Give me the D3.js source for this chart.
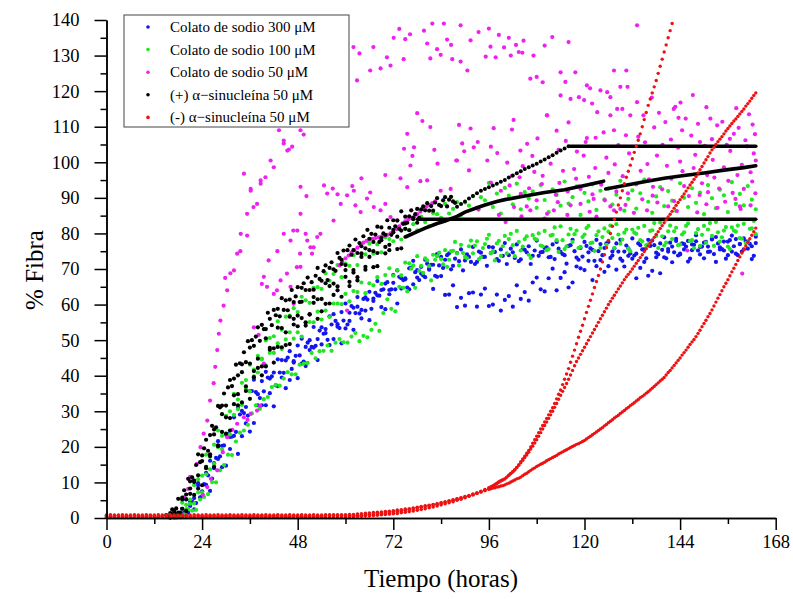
<!DOCTYPE html>
<html><head><meta charset="utf-8">
<script src="https://cdn.jsdelivr.net/npm/d3@7"></script>
<style>body{margin:0;background:#fff}svg{display:block}</style>
</head><body>
<svg id="chart" width="793" height="599"></svg>
<script>
// ---------- axis ticks & labels ----------
const xTicks=[0,24,48,72,96,120,144,168];
const xMinor=[12,36,60,84,108,132,156];
const yTicks=[0,10,20,30,40,50,60,70,80,90,100,110,120,130,140];
const yMinor=[5,15,25,35,45,55,65,75,85,95,105,115,125,135];
const xTitle="Tiempo (horas)";
const yTitle="% Fibra";
const legendLabels=["Colato de sodio 300 μM","Colato de sodio 100 μM","Colato de sodio 50 μM","(+) α−sinucleína 50 μM","(-) α−sinucleína 50 μM"];
const seriesColors=["#1414ee","#22e622","#ee22ee","#000000","#ee1111"];

// ---------- Colato de sodio 300 uM (blue), replicates sampled hourly ----------
const blue1Start=17, blue1=[0.8,0.5,2.6,5.3,3.4,5.6,9.8,7.5,12.7,16.1,15.4,21.6,20.3,23.4,22.8,28.3,31.0,30.1,31.2,35.7,38.9,34.8,38.5,41.1,39.2,40.9,44.6,44.4,44.3,46.9,44.1,48.5,50.4,48.1,50.0,53.7,50.3,53.6,53.1,56.7,57.3,54.5,57.9,60.3,57.7,59.1,62.1,58.5,62.0,63.6,61.7,66.6,64.1,65.9,64.1,68.3,69.6,67.4,67.1,70.2,72.3,67.6,70.6,72.6,70.1,71.2,74.2,73.4,72.6,74.4,70.9,74.5,75.5,72.4,73.4,76.2,72.0,74.6,73.4,76.2,76.1,72.8,75.5,77.3,73.9,74.7,76.9,72.7,75.4,76.4,73.7,78.0,74.7,75.9,73.3,76.9,77.6,74.8,73.9,76.5,78.2,73.2,75.9,77.6,74.7,75.4,78.2,77.0,75.9,77.6,73.8,77.2,78.2,74.9,75.8,78.6,74.3,76.7,75.5,78.2,78.0,74.6,77.2,78.9,75.6,76.3,78.5,74.3,77.0,77.9,75.3,79.5,76.2,77.4,74.8,78.3,79.0,76.1,75.2,77.7,79.4,74.3,77.0,78.6,75.7,76.4,79.1];
const blue2Start=17, blue2=[0.2,1.1,0.4,2.3,4.6,2.4,9.2,6.1,9.3,7.6,14.0,16.6,14.3,14.7,19.4,23.1,18.0,23.0,26.6,24.3,26.7,31.7,31.7,31.7,35.1,31.4,37.1,39.5,36.5,38.8,43.7,39.3,43.4,42.7,47.2,47.9,44.4,48.8,52.0,48.6,50.3,53.8,49.1,53.3,55.4,52.9,59.4,56.1,58.3,55.6,61.0,62.6,59.3,58.7,62.9,66.1,60.3,64.5,67.4,64.3,65.7,69.7,68.7,67.7,69.8,64.4,67.8,68.0,62.7,62.8,65.4,59.3,61.9,59.7,63.2,63.4,59.4,62.8,64.5,59.6,60.0,62.8,58.3,61.3,62.4,59.4,65.4,61.6,63.5,61.1,66.2,67.6,64.3,63.7,67.4,70.1,64.0,67.5,69.1,64.8,66.2,70.7,70.2,69.7,72.3,66.9,70.8,72.5,69.2,70.8,74.9,69.8,72.9,70.7,73.7,72.9,67.4,70.3,72.0,68.1,69.5,73.3,68.8,73.3,74.9,71.9,77.9,74.1,75.5,72.1,76.9,77.8,74.1,73.0,76.3,78.5,72.0,75.5,77.7,73.9,74.9,78.4,77.0,75.5,77.7,72.8,77.3];
const blue3Start=17.5, blue3=[0.5,0.5,1.6,1.5,4.6,4.2,5.8,9.5,12.0,11.1,16.9,17.3,20.4,23.6,22.9,24.2,29.1,29.5,28.8,35.7,35.4,33.7,35.6,39.5,39.8,37.3,40.9,40.8,45.1,41.9,45.6,45.7,44.0,49.3,48.1,48.4,52.7,51.8,50.1,54.4,55.4,53.4,55.5,54.4,59.6,57.6,57.5,61.6,61.4,58.8,63.3,62.5,64.3,66.3,64.3,64.3,67.8,66.9,64.8,70.4,69.1,66.9,68.2,71.5,71.2,68.1,71.0,70.3,73.9,69.9,72.9,72.2,69.6,74.1,72.0,71.4,74.9,73.4,70.9,74.5,74.8,72.3,73.7,71.4,75.7,73.1,72.2,75.6,74.7,71.4,75.2,73.7,74.8,76.1,73.4,72.8,75.7,74.2,71.5,76.7,75.0,72.6,73.5,76.5,75.8,72.3,75.0,73.9,77.2,73.1,75.8,74.9,72.3,76.6,74.4,73.8,77.2,75.5,73.0,76.5,76.7,74.1,75.4,73.0,77.4,74.7,73.8,77.2,76.3,72.9,76.8,75.2,76.3,77.6,74.9,74.2,77.2,75.6,72.9,78.1,76.4,73.9,74.9,77.8,77.1,73.7];

// ---------- Colato de sodio 100 uM (green) ----------
const green1Start=17, green1=[0.5,0.6,4.3,3.7,4.0,9.2,10.9,11.9,17.8,17.2,20.6,24.6,23.1,28.7,30.0,34.9,33.3,38.0,38.8,43.1,41.7,45.6,44.6,49.9,50.6,51.1,55.3,52.9,56.6,56.9,59.0,57.9,62.2,61.2,60.5,64.7,64.9,64.4,68.8,66.7,68.6,71.1,67.7,71.5,70.9,73.9,71.1,74.5,74.1,77.1,74.3,76.9,74.7,78.9,78.4,77.8,81.3,78.3,81.3,81.0,82.6,80.9,84.7,83.2,82.0,85.7,85.4,84.4,88.3,85.6,86.9,88.8,85.2,88.7,87.8,90.5,87.2,90.2,89.3,94.2,87.4,91.2,85.6,92.8,90.6,88.2,94.0,86.8,91.6,89.8,91.8,87.2,93.6,89.4,86.0,92.4,90.8,87.8,94.6,88.4,90.2,93.2,85.2,91.4,89.0,93.8,86.6,92.0,89.6,92.6,88.1,90.9,94.8,86.4,89.7,92.1,87.0,91.3,95.1,88.9,85.8,90.4,93.0,87.7,91.9,89.2,86.3,94.1,90.0,87.4,92.7,88.6,91.5,85.4,93.6,89.9,87.1,92.3,90.7,86.0,94.4,88.3,91.1,87.9,93.3,89.5,86.8];
const green2Start=17, green2=[0.1,0.9,0.9,2.4,5.2,4.1,7.2,7.2,12.3,13.7,15.2,19.9,19.3,23.5,23.5,29.0,30.6,31.8,36.3,35.6,39.8,40.9,44.8,42.9,46.4,46.4,49.1,47.5,50.2,52.2,50.4,52.2,51.0,54.8,55.1,55.0,58.0,55.8,58.3,56.5,60.3,60.3,60.1,63.0,60.9,63.8,63.5,66.2,63.2,66.0,65.4,67.7,65.8,68.3,70.2,68.1,69.7,68.2,71.8,71.6,71.0,73.6,70.9,73.0,70.8,74.0,73.6,72.8,75.3,72.6,75.1,74.4,76.8,73.4,76.4,74.4,77.8,73.3,77.0,79.6,75.0,77.2,73.7,79.3,78.4,76.7,80.7,75.2,78.4,74.0,79.5,78.3,76.6,80.7,75.6,79.6,78.1,82.0,75.6,79.7,77.6,80.8,76.2,79.7,82.1,77.4,79.5,75.9,81.4,80.5,78.7,82.6,77.1,80.2,75.7,81.1,79.9,78.1,82.1,76.9,80.9,79.3,83.1,76.6,80.6,78.4,81.6,76.9,80.3,82.8,78.1,80.1,76.5,82.1,81.1,79.3,83.2,77.7,80.8,76.3,81.7,80.5,78.7,82.7,77.5,81.4,79.8];
const green3Start=17.5, green3=[0.1,0.2,1.0,2.5,2.1,2.3,5.2,5.9,6.7,10.1,10.0,13.4,14.9,17.8,17.7,21.5,24.0,24.6,26.2,29.4,31.7,30.7,33.4,34.0,36.8,37.4,37.2,39.2,41.0,40.4,40.4,43.1,43.4,43.6,46.4,44.9,46.9,47.0,48.5,47.0,49.3,50.3,49.4,49.3,51.0,52.0,49.7,51.2,50.8,52.9,54.6,52.6,57.6,61.5,58.8,58.1,65.0,64.7,63.7,70.1,64.7,69.5,68.9,72.4,66.8,72.6,74.6,71.3,70.6,75.0,77.6,71.0,74.5,73.0,78.0,76.6,72.8,75.9,78.5,74.4,72.4,77.9,76.4,74.4,79.9,73.6,77.6,76.3,79.2,73.1,78.5,80.0,76.4,75.3,79.4,81.7,74.8,78.1,76.4,81.3,79.8,75.9,79.0,81.5,77.3,75.1,80.6,79.0,76.8,82.2,75.9,79.7,78.3,81.1,75.0,80.2,81.6,77.8,76.7,80.7,82.9,75.9,79.2,77.4,82.2,80.6,76.7,79.7,82.1,77.9,75.8,81.2,79.6,77.4,82.9,76.5,80.3,78.9,81.8,75.6,80.8,82.2,78.5,77.3,81.3,83.5];

// ---------- Colato de sodio 50 uM (magenta), individual readings [hours, %] ----------
const magentaPts=[
[19.4,5.8],[20.5,8.2],[21,11.6],[21.9,10.5],[22.7,15.2],[23.6,19.9],[24.4,23.7],[25.3,27.4],[26,33],[26.9,37.9],[27.3,42.5],[27.8,47.2],[28.2,51.8],[28.6,55.5],[29.4,59.7],[30.3,64],[29.8,67.5],[31.1,68.8],[32,69.6],[32.8,74.3],[33.6,75],[33.7,79.9],[35.3,85.5],[34.5,96.8],[36.2,92],[36.9,87.4],[37.8,88.3],[38.7,94.9],[39.9,95.8],[41.2,100.5],[42,98.6],[43.3,109],[44.5,106.1],[45.4,103.3],[46.6,104.4],[48.7,109],[49.5,107.8],
[24.2,6.5],[25.3,8.7],[26.2,11],[27.8,13.4],[29.2,18.5],[30.3,22.7],[31.6,24.8],[32.8,26.5],[34.5,28.3],[35.4,27.6],[36.2,29.3],[37.8,30.2],[38.6,31.5],[39.5,43.4],[37,53.6],[38.2,51.5],[47,60.2],[60.4,58.3],
[39,65.8],[40.7,72.4],[42.8,64],[42.9,75],[44.5,79.9],[45.3,68.7],[46.2,65],[46.9,80.8],[47.8,70.5],[48.6,74.3],[48.7,85.5],[50,79.9],[50.4,78],[51.6,74.3],[52,76.1],[53.7,79.9],[57,83.6],[39.5,67.8],[40.3,65],[42,63],[43.7,66.8],[46.2,78],[47.9,80.8],[48.7,70.6],[51.2,76.1],[52.9,79],[48.7,93.1],[50.2,90.5],[54.6,93.5],[55.4,91.2],[56.8,92.6],[58,91],[58.8,88.3],[60.4,90.7],[61.7,93.3],[62.5,87.9],[63.8,86],[65.4,89.8],[67.1,87.4],[68.8,86.5],[70,88.3],[71.3,84.6],[73,83.7],[62.1,92],[64,95.5],[66.2,91.5],[35.3,79.4],[36.2,92.5],[38.7,94],[44.5,105.3],[45.8,103.6],
[58.5,71],[59.2,72],[60,73],[60.8,73.8],[61.5,74.6],[62.2,75.3],[63,76],[63.8,76.8],[64.5,77.4],[65.3,77.9],[66,78.2],[66.8,78.5],[67.5,78.7],[68.3,78.9],[69,79.1],[69.8,79.3],[70.5,79.6],[71.3,80],[72,80.4],[72.8,81.3],[73.5,82],[74.3,82.8],[75,83.4],[75.8,84],[76.5,84.4],[77.3,84.8],[78,85.4],[78.8,86.1],[79.5,86.8],[80.3,87.5],[81,88],[81.8,88.5],[82.5,89],
[62,132.4],[63.5,130.6],[67,132.4],[70.4,129.5],[66.2,125.8],[68.8,126.4],[62.9,123],[72.1,135],[73.5,137.5],[76.2,136],[79.7,137],[81.8,139],[84.7,139],[85.5,134.5],[88.9,138.5],[93.4,136.6],[96,137.6],[98.5,135.8],[101,135],[102.8,133],[104.7,134.2],[111.9,135.2],[116,133.8],[133.2,138.5],[75,134.6],[80.5,133.4],[83,131.8],[86.5,133],[91.4,134.3],[96.4,132.5],[99.8,132.3],[103.5,131],[107.2,130],[110,132.8],[71.3,127.2],[74.6,129],[81.3,129.2],[83.9,130.2],[86.8,129],[88.9,128.3],[90.6,125.8],[95.2,129.7],[97.7,129.5],[101.5,130],[104.4,130.8],[106.4,123.5],[108,124],[109.5,122.5],[114,125.3],[115.2,122.6],[117.7,125.3],[120.6,121.6],[121.4,120.8],[121.9,116.5],[124,120.2],[125.7,119.7],[127.4,125.8],[129,121.2],[130.5,125.8],[130.8,121.2],[126.5,118.3],[128.2,115],[129.5,115],[131.5,113.2],[133.2,116.9],[134.8,113.2],[114,118.8],[116.5,117.8],[118.6,118.3],[119.9,117.5],[123.2,114.1],[126.5,113.2],[110.6,113.2],[142.4,115],[143.6,112.5],[140.3,111.3],[142.8,115.6],[145.4,112.3],[144.5,109],[151.6,112.3],[153.3,110.4],[152,106.5],[157.5,108],[156.5,106.6],[149,105.7],[127.4,109],[130.4,107.6],[133.5,107.2],[120.3,105.7],[122.8,106.9],[116,111.2],[113,108.9],
[146.8,107.5],[148.5,110.8],[150.2,104.6],[154.6,111.4],[158.7,109.7],[160.4,106.2],[162.2,110.6],[141.7,106.4],[137.5,109.8],[139.6,104.9],[135.2,105.6],[155.7,104.9],[161.3,113.5],[144.1,116.8],[147.2,118.9],[138.7,113.9],[136.9,118.2],[150.6,115.5],[158.1,115.2],[162.8,107.9],
[78,113.8],[79.3,111.6],[88.5,110.5],[75.5,108],[81.3,109.9],[91.4,109.5],[97.2,109.6],[102.2,111.9],[101.8,109.2],[110.6,113.2],[74.7,103.8],[76.8,101.8],[82.3,103.5],[89.3,105.3],[89.8,103.1],[93.2,105.7],[96.5,104.4],[98.1,102.6],[103.9,103.3],[105.6,105.2],[76.3,99.1],[83.1,99.6],[87.8,100.5],[91,97.7],[95.6,100.5],[100.6,99.9],[101.8,96.2],[70,96.4],[73.8,95.5],[78.8,94.7],[83.9,92],[86.4,92.5],[96.5,94.3],[99,92],[107.4,97.3],[109.5,96.2],[113.7,94.2],[117.4,98.1],[118.6,93.2],[104,91.1],[75.5,93],[77.2,104.2],[80.5,94.9],[88,100.5],[92.2,104.2],
[108,89.3],[112.3,86.5],[115.8,91.8],[119,88.3],[122.3,89.7],[127.4,86.5],[123,84.7],[110,84.2],[105.5,87.6],[98.5,85.2],[93.4,86.7],
[138.2,101.9],[140.7,99],[144,100.2],[147.4,98.4],[150.8,96.4],[152.2,100.7],[155,98.6],[158.4,96.4],[160,92.5],[161.7,97.2],[163,100.5],[161.7,87.9],[159,87.6],[155.3,88.9],[151,91.6],[146.2,90.5],[142.5,89.1],[138.3,88.7],[134.5,89.6],[130.3,88],[126.5,87.6],[122,91],[119,92.5],[116.5,87.9],[115.7,85.2],[136.2,95.2],[133,93.8],[129.6,96.1],[126,97],[122.7,98.4],[119.8,101.9],[125.5,101.3],[131.2,102.5],[135.8,99.5],[143.5,104.1],[147.8,102.1],[156.6,103.2],[160.8,104.5],[162.5,102.5],[149.5,94.1],[153.8,92.6],[157.2,91.4],[145,93.3],[139.5,92.4],[128,91.8],[159.6,68.7],
[104.5,98.9],[106.9,101.8],[111.5,99.6],[113.5,103.5],[108.2,106.7],[115.3,106],[118.1,103],[120.6,106.8],[124.8,108.4],[128.5,104.8],
[102.3,87.4],[106.4,86.5],[110.6,85.5],[121.3,86.1],[129,86.9],[132.4,85.8],[135.7,86.5],[141,87.6],[148.3,85.9],[153.4,87.2],[159.2,86.9],[100.2,83.2],[145.8,75.2],
[101.2,93.5],[103.7,95.8],[106.1,92.7],[109.3,93.9],[112.8,90.9],[114.6,97.6],[117.9,95.4],[121.1,95.9],[124.2,93.7],[127.6,99.4],[130.9,91.3],[134.1,97.6],[137.2,93.1],[141.8,95.4],[144.6,97.5],[148.9,90.8],[152.6,95.7],[156.1,94.8],[159.5,99.3],[162.1,94.6],[104.2,84.8],[113.3,88.8],[125.1,89.3],[137.1,90.6],[143.2,86.3],[150.6,88.2],[157.9,89.7],[162.9,91.3]
];

// ---------- (+) alfa-sinucleina 50 uM (black) ----------
const black1Start=15, black1Step=0.5, black1=[0.8,0.4,1.4,2.4,1.4,2.7,5.4,1.5,5.7,7.8,6.6,11.0,8.3,11.4,10.1,14.9,17.9,15.7,16.0,19.6,22.0,18.9,23.3,25.9,24.9,25.5,31.5,31.1,31.6,35.0,31.6,36.7,38.8,37.1,39.2,43.1,40.1,43.5,43.2,46.6,43.8,49.7,47.9,50.0,48.4,51.0,53.6,49.8,54.3,53.1,53.1,57.7,56.0,54.2,58.5,57.0,58.8,56.7,61.8,58.5,61.2,58.4,61.4,64.1,60.7,62.3,64.9,60.7,64.7,66.0,64.1,67.6,64.1,66.3,64.2,68.1,70.3,67.2,66.7,69.4,71.0,66.9,70.3,71.9,69.9,69.5,74.5,73.1,72.6,75.2,71.1,75.3,76.6,74.0,75.3,78.3,74.5,77.3,76.4,79.2,75.8,81.0,78.5,79.9,77.6,79.7,81.9,77.6,81.7,80.0,79.6,83.7,81.6,79.6,83.7,82.0,83.6,81.3,86.2,82.7,84.7,83.0,84.8,86.5,84.4,85.4,86.9,84.4,86.8,87.6,86.5,88.5,86.4,87.7,86.4,88.7,89.9,88.0,87.7,89.3,90.2,87.6,89.5,90.3,89.0,88.6];
const black2Start=16, black2Step=1, black2=[0.2,2.0,1.5,5.2,5.2,10.3,6.5,12.0,17.6,14.4,17.9,23.5,20.2,29.2,28.3,28.1,34.5,34.8,41.0,35.7,43.4,41.3,44.8,42.6,50.5,47.8,47.7,53.5,53.4,48.6,56.6,54.4,56.9,60.8,55.0,57.3,62.1,61.5,58.1,66.0,65.2,62.7,65.1,71.4,69.7,65.2,69.7,67.7,74.3,70.6,75.3,75.0,70.8,78.7,76.2,75.3,81.0,79.1,75.8,81.3];
const black3Start=16, black3Step=1, black3=[0.1,1.1,0.6,2.6,2.0,6.8,10.5,8.3,9.2,14.0,17.4,14.4,20.4,24.2,23.7,24.6,32.0,31.7,32.5,37.0,33.5,39.6,42.2,40.1,42.6,47.3,43.7,48.1,48.0,52.2,48.9,56.0,53.9,56.2,54.1,57.2,60.5,56.0,61.6,60.2,60.3,65.9,64.0,62.2,67.8,66.4,69.0,66.8,73.4,69.8,73.4,70.5,74.5,78.1,74.4,76.8,80.3,75.6,80.8,82.8,80.9,84.0,83.0];
const blackRiseStart=88, blackRise=[87.5,88.3,89.0,89.8,90.5,91.3,92.0,92.5,93.0,93.5,94.0,94.5,95.0,95.7,96.3,96.9,97.5,98.1,98.6,99.1,99.6,100.2,100.8,101.4,102.0,102.7,103.3,103.9,104.5];
const blackTopPlateau=[[116.5,104.5],[163,104.5]];
const blackLowPlateau=[[78,84],[163,84]];
const blackMidA=[[75,79],[78,80.5],[80,81.5],[83,82.8],[85,83.5],[88,84.8],[90,86],[93,87.2],[95,88],[98,89],[100,89.5],[105,90.5],[110,91.5],[115,92.3],[120,93.5],[124.8,94.7]];
const blackMidB=[[125.3,92.5],[130,93.5],[135,94.5],[140,95.5],[145,96.3],[150,97],[155,97.8],[160,98.5],[163,99]];

// ---------- (-) alfa-sinucleina 50 uM (red), three replicates ----------
const redA1=[0.2,0.2,0.3,0.2,0.2,0.3,0.2,0.2,0.3,0.2,0.2,0.3,0.2,0.2,0.3,0.2,0.2,0.3,0.2,0.2,0.3,0.2,0.2,0.3,0.2,0.2,0.3,0.2,0.2,0.3,0.2,0.2,0.3,0.2,0.2,0.3,0.2,0.2,0.3,0.2,0.2,0.3,0.2,0.2,0.3,0.2,0.2,0.3,0.2,0.2,0.3,0.2,0.2,0.3,0.2,0.2,0.3,0.3,0.3,0.3,0.3,
0.4,0.4,0.5,0.5,0.6,0.6,0.7,0.8,0.9,1.0,1.1,1.2,1.3,1.5,1.6,1.8,2.0,2.2,2.4,2.6,2.9,3.1,3.4,3.7,4.0,4.3,4.6,5.0,5.3,5.7,6.1,6.5,7.0,7.5,8.0,8.5];
const redA2=[8.8,9.1,9.4,9.8,10.1,10.4,10.7,11.0,11.5,12.0,12.5,13.0,13.5,14.2,15.0,15.8,16.6,17.4,18.2,19.0,20.0,21.0,22.0,23.0,24.0,25.0,26.0,27.0,28.0,29.0,30.0,31.0,32.2,33.5,34.8,36.0,37.5,39.0,40.5,42.0,43.8,45.5,47.2,49.0,50.8,52.5,54.2,56.0,57.8,59.5,61.2,63.0,64.8,66.5,68.2,70.0,72.0,74.0,76.0,78.0,80.0,82.0,84.0,86.0,88.0,90.0,92.0,94.0,95.8,97.5,99.2,101.0,102.8,104.5,106.2,108.0,110.0,112.0,114.0,116.0,117.8,119.5,121.2,123.0,125.0,127.0,129.0,131.0,133.0,135.0,137.0,139.0];
const redB1=[0.5,0.5,0.5,0.6,0.5,0.5,0.5,0.6,0.5,0.5,0.5,0.6,0.5,0.5,0.5,0.6,0.5,0.5,0.5,0.6,0.5,0.5,0.5,0.6,0.5,0.5,0.5,0.6,0.5,0.5,0.5,0.6,0.5,0.5,0.5,0.6,0.5,0.5,0.5,0.6,0.5,0.5,0.5,0.6,0.5,0.5,0.5,0.6,0.5,0.5,0.5,0.6,0.5,0.5,0.5,0.6,0.6,0.6,0.6,0.6,0.6,
0.7,0.7,0.8,0.8,0.9,1.0,1.1,1.2,1.3,1.4,1.5,1.7,1.8,2.0,2.2,2.4,2.6,2.8,3.0,3.2,3.4,3.7,3.9,4.2,4.5,4.8,5.1,5.4,5.7,6.0,6.3,6.7,7.0,7.4,7.8,8.2];
const redB2=[8.5,8.9,9.3,9.7,10.1,10.5,10.8,11.0,11.5,12.0,12.5,13.0,13.6,14.2,14.8,15.5,16.2,17.0,17.7,18.5,19.4,20.2,21.1,22.0,23.0,24.0,25.0,26.0,27.0,28.0,29.0,30.0,31.1,32.2,33.4,34.5,35.6,36.7,37.8,39.0,40.2,41.5,42.8,44.0,45.0,46.0,47.0,48.0,49.0,50.0,51.0,52.0,53.0,54.0,55.0,56.0,57.0,58.0,59.0,60.0,60.9,61.8,62.6,63.5,64.4,65.2,66.1,67.0,67.8,68.5,69.2,70.0,70.8,71.6,72.4,73.2,74.0,74.9,75.7,76.5,77.3,78.1,78.9,79.7,80.5,81.4,82.2,83.0,83.8,84.6,85.4,86.2,87.1,87.9,88.7,89.5,90.3,91.1,91.9,92.8,93.6,94.4,95.2,96.0,97.0,97.9,98.8,99.8,100.7,101.6,102.6,103.5,104.2,105.0,105.8,106.5,107.2,108.0,108.8,109.5,110.2,110.9,111.6,112.2,112.9,113.6,114.3,115.0,115.8,116.5,117.2,118.0,118.8,119.5];
const redC1=[0.8,0.9,0.8,0.8,0.9,0.8,0.8,0.9,0.8,0.8,0.9,0.8,0.8,0.9,0.8,0.8,0.9,0.8,0.8,0.9,0.8,0.8,0.9,0.8,0.8,0.9,0.8,0.8,0.9,0.8,0.8,0.9,0.8,0.8,0.9,0.8,0.8,0.9,0.8,0.8,0.9,0.8,0.8,0.9,0.8,0.8,0.9,0.8,0.8,0.9,0.8,0.8,0.9,0.8,0.8,0.9,0.9,0.9,0.9,0.9,0.9,
1.0,1.0,1.1,1.2,1.3,1.4,1.5,1.6,1.7,1.8,1.9,2.0,2.2,2.3,2.5,2.6,2.8,3.0,3.2,3.4,3.6,3.8,4.0,4.3,4.5,4.8,5.0,5.3,5.6,5.9,6.2,6.6,6.9,7.3,7.7,8.1];
const redC2=[8.2,8.4,8.5,8.7,8.8,9.0,9.1,9.3,9.6,9.8,10.1,10.4,10.7,11.0,11.2,11.5,11.9,12.3,12.6,13.0,13.4,13.8,14.1,14.5,14.8,15.1,15.4,15.7,16.1,16.4,16.7,17.0,17.3,17.6,18.0,18.3,18.6,18.9,19.2,19.5,19.8,20.1,20.4,20.7,20.9,21.2,21.5,21.8,22.2,22.6,23.0,23.4,23.8,24.2,24.6,25.0,25.4,25.9,26.3,26.8,27.2,27.6,28.1,28.5,28.9,29.4,29.8,30.2,30.7,31.1,31.6,32.0,32.4,32.9,33.3,33.8,34.2,34.6,35.1,35.5,36.0,36.5,37.0,37.5,38.0,38.5,39.0,39.5,40.2,40.9,41.5,42.2,42.9,43.6,44.3,45.0,45.8,46.5,47.2,48.0,48.8,49.5,50.2,51.0,51.9,52.8,53.8,54.7,55.6,56.6,57.5,58.5,59.6,60.7,61.8,62.8,63.9,65.0,66.0,67.0,68.1,69.2,70.2,71.3,72.4,73.4,74.5,75.5,76.5,77.5,78.5,79.5,80.5,81.5];
const redSeg1Start=0, redSeg1Step=1, redSeg2Start=96.5, redSeg2Step=0.5;

// ---------- drawing ----------
const svg=d3.select("#chart");
const FONT='"Liberation Serif","Times New Roman",serif';
const x=d3.scaleLinear().domain([0,168]).range([106.5,775.7]);
const y=d3.scaleLinear().domain([0,140]).range([518,20]);
const R=2.1;

function seq(start,step,vals){return vals.map((v,i)=>[start+i*step,v]);}
function dots(pts,color,r){
  svg.append("g").selectAll("circle").data(pts).join("circle")
    .attr("cx",d=>x(d[0])).attr("cy",d=>y(d[1])).attr("r",r).attr("fill",color);
}

dots(seq(blue1Start,1,blue1),seriesColors[0],R);
dots(seq(blue3Start,1,blue3),seriesColors[0],R);
dots(seq(blue2Start,1,blue2),seriesColors[0],R);
dots(seq(green2Start,1,green2),seriesColors[1],R);
dots(seq(green3Start,1,green3),seriesColors[1],R);
dots(seq(green1Start,1,green1),seriesColors[1],R);
dots(magentaPts,seriesColors[2],R);
dots(seq(black3Start,black3Step,black3),seriesColors[3],R);
dots(seq(black2Start,black2Step,black2),seriesColors[3],R);
dots(seq(black1Start,black1Step,black1),seriesColors[3],R);
dots(seq(blackRiseStart,1,blackRise),seriesColors[3],2.0);
const ln=d3.line().x(d=>x(d[0])).y(d=>y(d[1]));
[blackTopPlateau,blackLowPlateau,blackMidA,blackMidB].forEach(p=>{
  svg.append("path").attr("d",ln(p)).attr("fill","none").attr("stroke","#000").attr("stroke-width",3.6).attr("stroke-linecap","round");
});
[[redA1,redA2],[redB1,redB2],[redC1,redC2]].forEach(([s1,s2])=>{
  dots(seq(redSeg1Start,redSeg1Step,s1),seriesColors[4],1.8);
  dots(seq(redSeg2Start,redSeg2Step,s2),seriesColors[4],1.7);
});

// axes
function styleAxis(g){
  g.selectAll("path,line").attr("stroke","#000").attr("stroke-width",1.5);
  g.selectAll("text").attr("font-family",FONT).attr("font-size",18.5).attr("fill","#000");
}
svg.append("g").attr("transform","translate(0,518)")
  .call(d3.axisBottom(x).tickValues(xMinor).tickSize(6).tickFormat("").tickSizeOuter(0)).call(styleAxis);
svg.append("g").attr("transform","translate(0,518)")
  .call(d3.axisBottom(x).tickValues(xTicks).tickSize(12).tickPadding(5).tickSizeOuter(0)).call(styleAxis);
svg.append("g").attr("transform","translate(106.5,0)")
  .call(d3.axisLeft(y).tickValues(yMinor).tickSize(6).tickFormat("").tickSizeOuter(0)).call(styleAxis);
svg.append("g").attr("transform","translate(106.5,0)")
  .call(d3.axisLeft(y).tickValues(yTicks).tickSize(12).tickPadding(15).tickSizeOuter(0)).call(styleAxis);

svg.append("text").attr("x",441).attr("y",587).attr("text-anchor","middle")
  .attr("font-family",FONT).attr("font-size",25).text(xTitle);
svg.append("text").attr("transform","translate(43,270) rotate(-90)").attr("text-anchor","middle")
  .attr("font-family",FONT).attr("font-size",25).text(yTitle);

// legend
const lg=svg.append("g");
lg.append("rect").attr("x",124).attr("y",15).attr("width",225).attr("height",112)
  .attr("fill","#fff").attr("stroke","#444").attr("stroke-width",1);
legendLabels.forEach((t,i)=>{
  const cy=27+i*22.6;
  lg.append("circle").attr("cx",148).attr("cy",cy).attr("r",1.8).attr("fill",seriesColors[i]);
  lg.append("text").attr("x",170).attr("y",cy+5).attr("font-family",FONT).attr("font-size",15).text(t);
});
</script></body></html>
